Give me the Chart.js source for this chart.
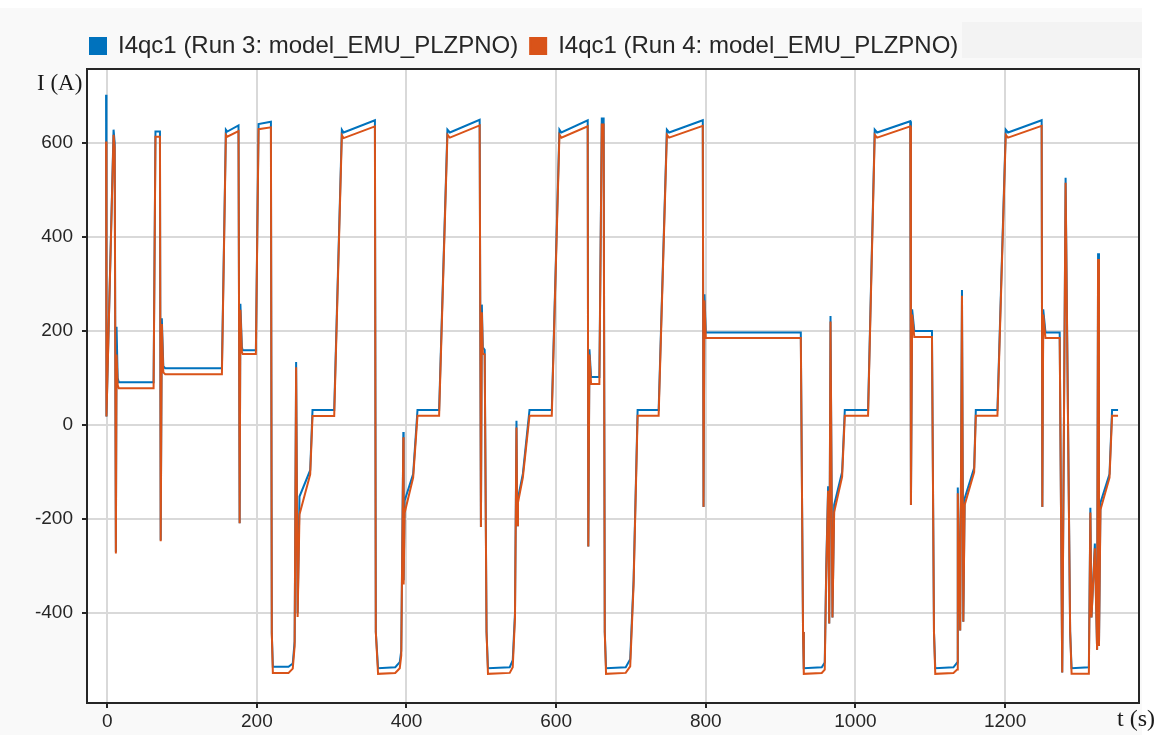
<!DOCTYPE html>
<html>
<head>
<meta charset="utf-8">
<title>I4qc1</title>
<script src="https://cdn.jsdelivr.net/npm/chart.js@4.4.1/dist/chart.umd.min.js"></script>
<style>
  html, body { margin: 0; padding: 0; background: #ffffff; }
  #wrap { width: 1160px; height: 735px; }
</style>
</head>
<body>
<div id="wrap"><canvas id="myChart" width="1160" height="735"></canvas></div>
<script>
// time (s)
const timeS = [
  -1.5, -1.0, 8.5, 10, 11.6, 12.5, 14, 15.5, 62, 64.5, 70.5, 71.5, 73, 75, 77.5,
  153.3, 158.6, 160.5, 175.5, 177, 178, 180, 181, 198.7, 202.3, 218.8, 220, 221.4,
  242.3, 248, 250.5, 252.5, 254.5, 257, 271.3, 274.4, 303.4,
  313.6, 316, 357.8, 359, 362, 385, 391, 393, 395.8, 396.2, 397.5, 408.9, 414.7, 443.6,
  454.7, 458, 497.8, 499.5, 500.7, 502, 504.5, 507, 508.9, 538, 542,
  545, 547, 548, 549, 555.5, 564.4, 594.2,
  604.4, 607, 642.2, 643, 644.5, 646.7, 657.8, 661, 663.5, 665, 666.7, 693, 699,
  703.5, 708.9, 737,
  748, 751, 796, 797, 798.2, 800, 927, 930, 931, 955, 959,
  961, 963.5, 965, 966.7, 969.3, 971.6, 982.2, 985.8, 1016.9,
  1025.8, 1029, 1073.3, 1074.2, 1075.8, 1078.7, 1102.3, 1105, 1106.7, 1131, 1136,
  1136.8, 1140, 1142.4, 1144.2, 1146, 1158.7, 1160.9, 1189.8,
  1200.9, 1204, 1248.9, 1249.8, 1251, 1254, 1273, 1276.4, 1280.9, 1283, 1287, 1288.9, 1312,
  1314, 1315.5, 1320, 1323, 1324.3, 1325.5, 1327.5, 1339.6, 1343, 1351
];

// I4qc1, Run 3 (A)
const run3Current = [
  702, 18, 628, 600, -270, 209, 100, 91, 91, 624, 624, -245, 227, 125, 121,
  121, 628, 624, 637, -209, 258, 166, 159, 159, 640, 645, -443, -514,
  -514, -507, -460, 134, -400, -152, -96, 32, 32,
  628, 622, 648, -440, -517, -515, -504, -480, -15, -330, -161, -104, 32, 32,
  628, 622, 649, -217, 256, 165, 160, -440, -517, -515, -500,
  -400, 9, -213, -156, -104, 32, 32,
  628, 622, 648, -258, 161, 102, 102, 652, 652, -440, -517, -515, -498,
  -330, 32, 32,
  628, 622, 648, -174, 278, 197, 197, -440, -517, -515, -505,
  -300, -130, -422, 232, -409, -170, -100, 32, 32,
  628, 622, 646, -170, 246, 200, 200, -440, -517, -515, -505,
  -133, -437, 287, -418, -156, -91, 32, 32,
  628, 622, 648, -174, 246, 197, 197, -526, 526, 194, -440, -517, -515,
  -176, -409, -252, -478, 365, -470, -165, -104, 32, 32
];

// I4qc1, Run 4 (A)
const run4Current = [
  603, 18, 617, 590, -273, 150, 85, 78, 78, 613, 613, -247, 215, 112, 108,
  108, 617, 613, 625, -209, 245, 155, 151, 151, 629, 633, -443, -527,
  -527, -518, -470, 123, -408, -190, -105, 19, 19,
  616, 610, 635, -440, -529, -527, -517, -490, -26, -339, -187, -112, 20, 20,
  617, 611, 637, -217, 240, 152, 150, -440, -529, -527, -515,
  -410, -5, -213, -165, -112, 20, 20,
  617, 611, 635, -258, 150, 87, 87, 639, 639, -440, -529, -527, -513,
  -340, 20, 20,
  617, 611, 636, -174, 265, 185, 185, -440, -529, -527, -520,
  -310, -140, -422, 220, -409, -185, -110, 20, 20,
  617, 611, 635, -170, 235, 187, 187, -440, -529, -527, -520,
  -145, -437, 275, -418, -170, -100, 20, 20,
  617, 611, 636, -174, 235, 185, 185, -526, 515, 182, -440, -529, -529,
  -186, -409, -262, -478, 353, -470, -180, -112, 20, 20
];

const xTicks = [0, 200, 400, 600, 800, 1000, 1200];
const yTicks = [-400, -200, 0, 200, 400, 600];

const toPoints = vals => timeS.map((t, i) => ({ x: t, y: vals[i] }));

// legend sits lower and further right than Chart.js puts it
const legendPlace = {
  id: 'legendPlace',
  beforeInit(chart) {
    const fit = chart.legend.fit;
    chart.legend.fit = function () {
      fit.call(this);
      this.height = 69;
    };
  },
  afterLayout(chart) {
    chart.legend.left = 78;
    chart.legend.top = 22;
  }
};

const decorations = {
  id: 'decorations',
  beforeDraw(chart) {
    const { ctx, chartArea: a } = chart;
    ctx.save();
    ctx.fillStyle = '#f9f9f9';
    ctx.fillRect(0, 8, 1142, chart.height - 8);
    ctx.fillStyle = '#f3f3f3';
    ctx.fillRect(962, 22, 180, 36);
    ctx.fillStyle = '#ffffff';
    ctx.fillRect(a.left, a.top, a.right - a.left, a.bottom - a.top);
    ctx.restore();
  },
  afterDraw(chart) {
    const { ctx, chartArea: a } = chart;
    ctx.save();
    ctx.strokeStyle = '#262626';
    ctx.lineWidth = 2;
    ctx.strokeRect(a.left, a.top, a.right - a.left, a.bottom - a.top);
    ctx.fillStyle = '#1a1a1a';
    ctx.textBaseline = 'alphabetic';
    ctx.font = '23px "Liberation Serif"';
    ctx.fillText('I (A)', 37, 90);
    ctx.font = '24px "Liberation Serif"';
    ctx.fillText('t (s)', 1117, 726);
    ctx.restore();
  }
};

const ctx = document.getElementById('myChart').getContext('2d');
const myChart = new Chart(ctx, {
  type: 'line',
  data: {
    datasets: [{
      label: 'I4qc1 (Run 3: model_EMU_PLZPNO)',
      data: toPoints(run3Current),
      borderColor: '#0072BD',
      backgroundColor: '#0072BD',
      borderWidth: 2,
      pointRadius: 0,
      order: 1
    }, {
      label: 'I4qc1 (Run 4: model_EMU_PLZPNO)',
      data: toPoints(run4Current),
      borderColor: '#D95319',
      backgroundColor: '#D95319',
      borderWidth: 2,
      pointRadius: 0,
      order: 0
    }]
  },
  options: {
    responsive: false,
    animation: false,
    layout: { padding: { left: 0, right: 21, top: 0, bottom: 0 } },
    plugins: {
      tooltip: { enabled: false },
      legend: {
        align: 'start',
        labels: {
          boxWidth: 16,
          boxHeight: 16,
          padding: 12,
          color: '#262626',
          font: { family: '"Liberation Sans", Arial, sans-serif', size: 24 },
          sort: (a, b) => a.datasetIndex - b.datasetIndex
        }
      }
    },
    scales: {
      x: {
        type: 'linear',
        min: -27,
        max: 1379,
        afterFit: scale => { scale.height = 32; },
        afterBuildTicks: scale => { scale.ticks = xTicks.map(v => ({ value: v })); },
        grid: { color: '#d9d9d9', lineWidth: 2, tickColor: '#262626', tickWidth: 2, tickLength: 5 },
        border: { display: true, color: '#262626', width: 2 },
        ticks: {
          color: '#262626',
          padding: 2,
          maxRotation: 0,
          callback: v => String(v),
          font: { family: '"Liberation Sans", Arial, sans-serif', size: 19 }
        }
      },
      y: {
        min: -591,
        max: 757,
        afterFit: scale => { scale.width = 87; },
        afterBuildTicks: scale => { scale.ticks = yTicks.map(v => ({ value: v })); },
        grid: { color: '#d9d9d9', lineWidth: 2, tickColor: '#262626', tickWidth: 2, tickLength: 5 },
        border: { display: true, color: '#262626', width: 2 },
        ticks: {
          color: '#262626',
          padding: 9,
          callback: v => String(v),
          font: { family: '"Liberation Sans", Arial, sans-serif', size: 19 }
        }
      }
    }
  },
  plugins: [legendPlace, decorations]
});
</script>
</body>
</html>
